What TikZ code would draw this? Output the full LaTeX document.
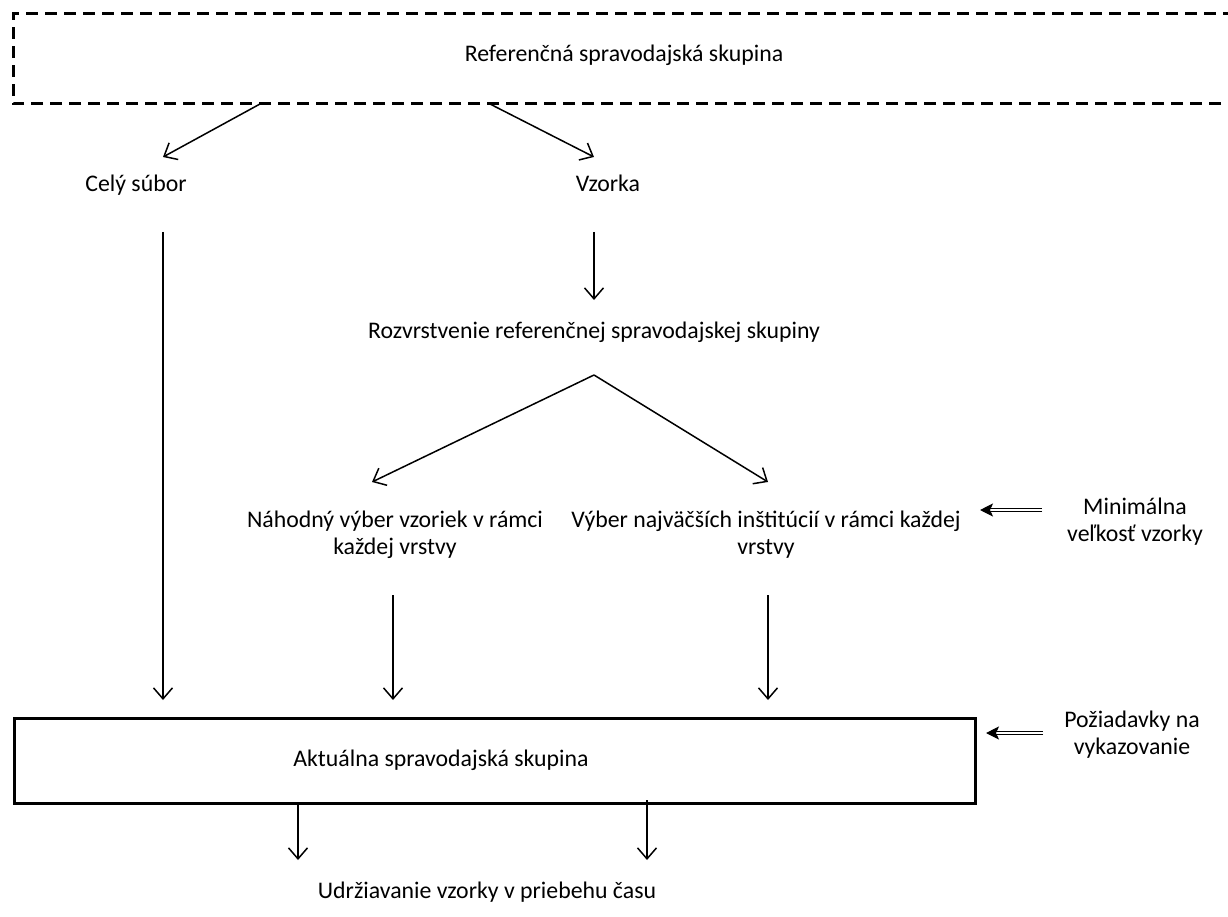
\documentclass[tikz,border=0pt]{standalone}
\usepackage{fontspec}
\setmainfont{Carlito}
\usetikzlibrary{arrows.meta}
\begin{document}
\begin{tikzpicture}[x=1pt,y=-1pt,
  lbl/.style={font=\fontsize{23.8}{27}\selectfont, inner sep=0pt, align=center},
  one/.style={lbl, text height=16pt, text depth=5pt},
  arr/.style={line width=1.5pt, -{Straight Barb[length=11pt,width=19pt,line width=1.5pt]}},
  dbl/.style={double, double distance=1.8pt, line width=1.1pt, -{Stealth[length=13pt,width=13pt,inset=3pt]}},
  box/.style={draw, line width=2.5pt},
]
\useasboundingbox (0,0) rectangle (1228,917);
\fill[white] (0,0) rectangle (1228,917);
% top dashed group (open on the right)
\draw[line width=3pt, dash pattern=on 12pt off 7pt] (1240,104) -- (13,104) -- (13,14) -- (1240,14);
\node[one] (ref) at (624,56) {Referenčná spravodajská skupina};
\coordinate (refL) at (260,104);
\coordinate (refR) at (490,104);

\node[one] (cely) at (136,186) {Celý súbor};
\node[one] (vzorka) at (608,186) {Vzorka};
\coordinate (celyIn) at (163,157);
\coordinate (vzorkaIn) at (594,157);
\draw[arr] (refL) -- (celyIn);
\draw[arr] (refR) -- (vzorkaIn);

\node[one] (rozv) at (594,333) {Rozvrstvenie referenčnej spravodajskej skupiny};
\coordinate (vzOut) at (594,232);
\coordinate (rozIn) at (594,300);
\draw[arr] (vzOut) -- (rozIn);
\coordinate (split) at (594,375);

\node[lbl] (nahod) at (395,535) {Náhodný výber vzoriek v rámci\\každej vrstvy};
\node[lbl] (vyber) at (766,535) {Výber najväčších inštitúcií v rámci každej\\vrstvy};
\coordinate (nahIn) at (372,482);
\coordinate (vybIn) at (768,482);
\draw[arr] (split) -- (nahIn);
\draw[arr] (split) -- (vybIn);

\node[lbl] (minim) at (1135,522) {Minimálna\\veľkosť vzorky};
\coordinate (minOut) at (1042,510);
\coordinate (minIn) at (980,510);
\draw[dbl] (minOut) -- (minIn);

\node[box, minimum width=961pt, minimum height=85pt, inner sep=0pt, anchor=north west] (akt) at (13,717) {};
\node[one] (aktT) at (441,761) {Aktuálna spravodajská skupina};

\coordinate (celyOut) at (163,232);
\coordinate (nahOut) at (393,595);
\coordinate (vybOut) at (768,595);
\draw[arr] (celyOut) -- (celyOut |- 0,700);
\draw[arr] (nahOut) -- (nahOut |- 0,700);
\draw[arr] (vybOut) -- (vybOut |- 0,700);

\node[lbl] (poz) at (1132,735) {Požiadavky na\\vykazovanie};
\coordinate (pozOut) at (1043,733);
\draw[dbl] (pozOut) -- (986,733);

\node[one] (udrz) at (487,893) {Udržiavanie vzorky v priebehu času};
\draw[arr] (298,802) -- (298,860);
\draw[arr] (647,800) -- (647,860);
\end{tikzpicture}
\end{document}
